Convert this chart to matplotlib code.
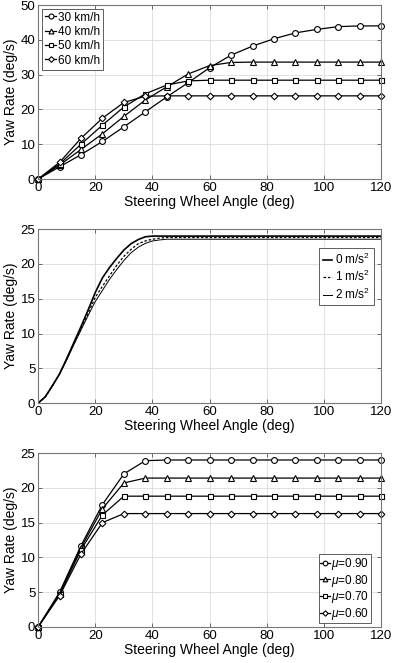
import numpy as np
import matplotlib
matplotlib.use("Agg")
import matplotlib.pyplot as plt

plt.rcParams['font.family'] = ['Liberation Sans', 'DejaVu Sans']
plt.rcParams['mathtext.fontset'] = 'custom'
plt.rcParams['mathtext.it'] = 'Liberation Sans:italic'
plt.rcParams['mathtext.rm'] = 'Liberation Sans'

# --- panel 1: speeds ---
ang = [0, 7.5, 15, 22.5, 30, 37.5, 45, 52.5, 60, 67.5, 75, 82.5, 90, 97.5, 105, 112.5, 120]
v30 = [0, 3.5, 7.0, 10.8, 15.0, 19.3, 23.6, 27.7, 32.0, 35.6, 38.2, 40.3, 42.0, 43.0, 43.8, 44.0, 44.0]
v40 = [0, 4.0, 8.5, 13.0, 18.0, 22.7, 26.5, 30.2, 32.6, 33.5, 33.6, 33.6, 33.6, 33.6, 33.6, 33.6, 33.6]
v50 = [0, 4.3, 10.0, 15.5, 20.7, 24.5, 27.0, 28.2, 28.4, 28.4, 28.4, 28.4, 28.4, 28.4, 28.4, 28.4, 28.4]
v60 = [0, 4.8, 11.7, 17.5, 22.0, 23.8, 23.9, 23.9, 23.9, 23.9, 23.9, 23.9, 23.9, 23.9, 23.9, 23.9, 23.9]
speed_labels = ['30 km/h', '40 km/h', '50 km/h', '60 km/h']

# --- panel 2: longitudinal acceleration ---
ang2 = [0, 2.5, 5, 7.5, 10, 12.5, 15, 17.5, 20, 22.5, 25, 27.5, 30, 32.5, 35, 37.5, 40, 42.5, 45, 47.5, 50, 120]
a0 = [0, 0.9, 2.5, 4.2, 6.4, 8.7, 11.0, 13.4, 15.9, 18.0, 19.5, 20.8, 22.0, 22.9, 23.5, 23.9, 24.0, 24.0, 24.0, 24.0, 24.0, 24.0]
a1 = [0, 0.9, 2.5, 4.2, 6.3, 8.5, 10.7, 12.9, 15.2, 16.8, 18.3, 19.8, 21.1, 22.1, 22.9, 23.3, 23.55, 23.7, 23.8, 23.8, 23.8, 23.8]
a2 = [0, 0.9, 2.5, 4.2, 6.2, 8.4, 10.5, 12.6, 14.6, 16.2, 17.8, 19.2, 20.5, 21.6, 22.4, 22.95, 23.3, 23.45, 23.55, 23.55, 23.55, 23.55]
acc_labels = ['0 m/s$^2$', '1 m/s$^2$', '2 m/s$^2$']

# --- panel 3: friction ---
mu90 = [0, 5.0, 11.7, 17.6, 22.0, 23.9, 24.0, 24.0, 24.0, 24.0, 24.0, 24.0, 24.0, 24.0, 24.0, 24.0, 24.0]
mu80 = [0, 4.8, 11.4, 17.0, 20.7, 21.4, 21.4, 21.4, 21.4, 21.4, 21.4, 21.4, 21.4, 21.4, 21.4, 21.4, 21.4]
mu70 = [0, 4.7, 11.1, 16.1, 18.8, 18.8, 18.8, 18.8, 18.8, 18.8, 18.8, 18.8, 18.8, 18.8, 18.8, 18.8, 18.8]
mu60 = [0, 4.5, 10.5, 15.0, 16.3, 16.3, 16.3, 16.3, 16.3, 16.3, 16.3, 16.3, 16.3, 16.3, 16.3, 16.3, 16.3]
mu_labels = [r'$\mu$=0.90', r'$\mu$=0.80', r'$\mu$=0.70', r'$\mu$=0.60']

markers = ['o', '^', 's', 'D']
msizes = [4.2, 4.2, 3.6, 3.4]

fig = plt.figure(figsize=(3.93, 6.63), dpi=100)
ax1 = fig.add_axes([0.097, 0.730, 0.873, 0.2624])
ax2 = fig.add_axes([0.097, 0.392, 0.873, 0.2624])
ax3 = fig.add_axes([0.097, 0.0543, 0.873, 0.2624])


def style(ax, ymax, ystep):
    ax.set_xlim(0, 120)
    ax.set_ylim(0, ymax)
    ax.set_xticks(np.arange(0, 121, 20))
    ax.set_yticks(np.arange(0, ymax + 0.1, ystep))
    ax.grid(True, color='#dcdcdc', linewidth=0.6)
    ax.set_axisbelow(True)
    ax.tick_params(direction='in', top=True, right=True, labelsize=9.5,
                   length=3, width=0.6, pad=2, color='#555555')
    for s in ax.spines.values():
        s.set_color('#777777')
        s.set_linewidth(0.8)
    ax.set_xlabel('Steering Wheel Angle (deg)', fontsize=10, labelpad=1)
    ax.set_ylabel('Yaw Rate (deg/s)', fontsize=10, labelpad=2)


def box(leg):
    leg.get_frame().set_linewidth(0.6)


for ys, lab, m, ms in zip([v30, v40, v50, v60], speed_labels, markers, msizes):
    ax1.plot(ang, ys, color='black', linewidth=0.9, marker=m, markersize=ms,
             markerfacecolor='white', markeredgewidth=0.8, label=lab, clip_on=False)
style(ax1, 50, 10)
box(ax1.legend(loc='upper left', fontsize=8.5, handlelength=1.0, handletextpad=0.15,
               borderpad=0.25, labelspacing=0.2, borderaxespad=0.3, fancybox=False,
               framealpha=1, edgecolor='#444444', markerscale=0.85))

ax2.plot(ang2, a0, color='black', linewidth=1.2, linestyle='-', label=acc_labels[0])
ax2.plot(ang2, a1, color='black', linewidth=0.9, linestyle=(0, (2, 1.5)), label=acc_labels[1])
ax2.plot(ang2, a2, color='black', linewidth=0.7, linestyle='-', label=acc_labels[2])
style(ax2, 25, 5)
box(ax2.legend(loc='upper right', fontsize=8.5, handlelength=0.8, handletextpad=0.25,
               borderpad=0.3, labelspacing=0.2, bbox_to_anchor=(0.995, 0.925),
               fancybox=False, framealpha=1, edgecolor='#444444'))

for ys, lab, m, ms in zip([mu90, mu80, mu70, mu60], mu_labels, markers, msizes):
    ax3.plot(ang, ys, color='black', linewidth=0.9, marker=m, markersize=ms,
             markerfacecolor='white', markeredgewidth=0.8, label=lab, clip_on=False)
style(ax3, 25, 5)
box(ax3.legend(loc='lower right', fontsize=8.5, handlelength=0.8, handletextpad=0.1,
               borderpad=0.15, labelspacing=0.05, borderaxespad=0.3, fancybox=False,
               framealpha=1, edgecolor='#444444', markerscale=0.8,
               bbox_to_anchor=(0.98, 0.0)))

fig.savefig('out.png', dpi=100)
